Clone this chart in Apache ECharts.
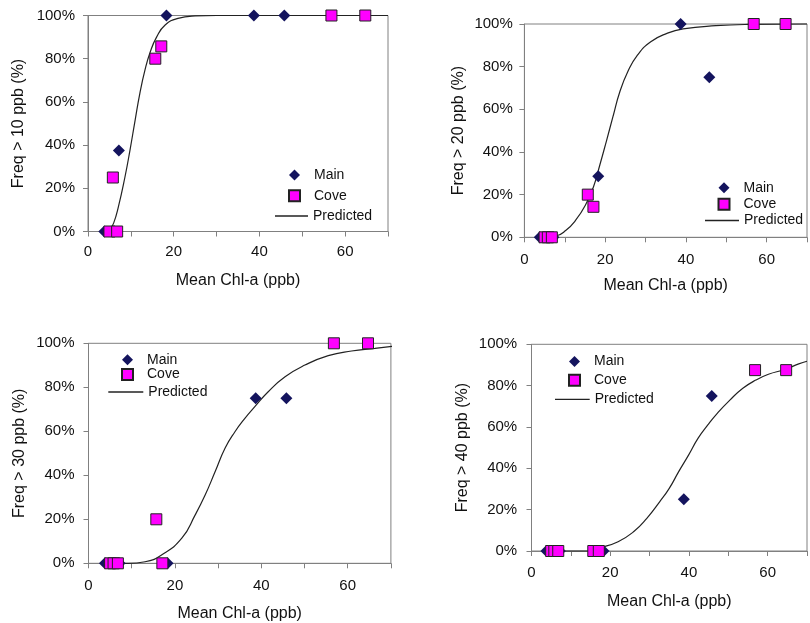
<!DOCTYPE html>
<html><head><meta charset="utf-8">
<script src="https://cdn.jsdelivr.net/npm/echarts@6/dist/echarts.min.js"></script>
<style>html,body{margin:0;padding:0;background:#fff}#c{width:810px;height:623px}</style>
</head><body><div id="c"></div>
<script>
// ---- data ----
const thresholds = ['10', '20', '30', '40'];
const mainX = [3.8, 7.2, 18.3, 38.7, 45.8];
const coveX = [5.0, 5.8, 6.8, 15.7, 17.1, 56.8, 64.7];
const main10 = [0, 37.5, 100, 100, 100];
const cove10 = [0, 25, 0, 80, 85.7, 100, 100];
const main20 = [0, 0, 28.6, 100, 75];
const cove20 = [0, 0, 0, 20, 14.3, 100, 100];
const main30 = [0, 0, 0, 75, 75];
const cove30 = [0, 0, 0, 20, 0, 100, 100];
const main40 = [0, 0, 0, 25, 75];
const cove40 = [0, 0, 0, 0, 0, 87.5, 87.5];

const predX10 = [4.5, 5.1, 6.0, 7.1, 8.6, 9.8, 11.0, 12.1, 13.3, 14.5, 16.0, 18.0, 21.0, 25.0, 30.0, 70.0];
const pred10  = [0, 1, 4, 11.5, 25, 37.7, 51.6, 64, 74.8, 83, 90, 95.6, 98.7, 99.8, 100, 100];
const predX20 = [4.5, 7.8, 10.3, 12.7, 15.1, 17.1, 18.7, 20.3, 22.0, 23.6, 25.6, 28.0, 31.3, 35.3, 39.3, 47.4, 55.5, 70.0];
const pred20  = [0, 0.6, 3.3, 8, 15, 23.6, 34, 45, 57, 68, 77.6, 85.4, 91.7, 95.6, 97.7, 99.2, 99.8, 100];
const predX30 = [5.0, 9.2, 13.1, 16.9, 21.6, 24.7, 27.0, 29.3, 31.6, 33.9, 36.2, 38.5, 41.6, 45.5, 50.1, 55.5, 60.9, 66.3, 71.3];
const pred30  = [0, 0, 0.7, 3.8, 11.4, 22, 31, 41.6, 52.3, 59.8, 65.9, 71.2, 78, 84.8, 90.1, 94.4, 96.5, 97.7, 98.9];
const predX40 = [5.0, 15.0, 17.1, 22.0, 26.0, 29.3, 32.6, 35.0, 37.4, 39.9, 42.3, 44.8, 47.2, 50.4, 53.7, 57.0, 60.2, 64.3, 67.9, 70.0];
const pred40  = [0, 0, 1.3, 4.5, 9.4, 15.8, 23.9, 30.3, 38.4, 46.4, 54.5, 61, 66.6, 73, 78.7, 82.7, 85.5, 87.8, 90.5, 91.8];

const xTickLabels = ['0', '20', '40', '60'];
const yTickLabels = ['0%', '20%', '40%', '60%', '80%', '100%'];

const mainSets = [main10, main20, main30, main40];
const coveSets = [cove10, cove20, cove30, cove40];
const predXs = [predX10, predX20, predX30, predX40];
const predYs = [pred10, pred20, pred30, pred40];

// ---- layout (positions/styles only) ----
const panels = [
  {grid: {left: 88, top: 15.5, width: 300, height: 216},
   mk: {left: 288, top: 168, itemGap: 6.7}, ln: {left: 275, top: 209, itemWidth: 33},
   yNameGap: 61, xNameGap: 41.5, xLabMargin: 13, yLabMargin: 13},
  {grid: {left: 524.4, top: 24, width: 288.75, height: 213.3},
   mk: {left: 717.5, top: 180.7, itemGap: 2.5}, ln: {left: 705, top: 213.5, itemWidth: 34},
   yNameGap: 58, xNameGap: 40, xLabMargin: 15, yLabMargin: 11.6},
  {grid: {left: 88.5, top: 343.3, width: 302.4, height: 220},
   mk: {left: 121, top: 352.7, itemGap: 0.8}, ln: {left: 108.3, top: 385, itemWidth: 35},
   yNameGap: 61, xNameGap: 42, xLabMargin: 15.5, yLabMargin: 14},
  {grid: {left: 531.5, top: 344.3, width: 287, height: 206.7},
   mk: {left: 568, top: 354.4, itemGap: 4.8}, ln: {left: 555, top: 392.3, itemWidth: 34.7},
   yNameGap: 60.5, xNameGap: 42.7, xLabMargin: 14.8, yLabMargin: 14.3}
];

const FONT = "'Liberation Sans', Arial, sans-serif";
const axisGray = '#808080';
const textCol = '#111';

const option = {
  animation: false,
  backgroundColor: '#fff',
  grid: [], xAxis: [], yAxis: [], legend: [], series: []
};

panels.forEach((p, i) => {
  option.grid.push(Object.assign({show: true, borderColor: axisGray, borderWidth: 1, backgroundColor: 'transparent', containLabel: false}, p.grid));
  option.xAxis.push({
    type: 'value', gridIndex: i, min: 0, max: 70, interval: 10,
    name: 'Mean Chl-a (ppb)', nameLocation: 'middle', nameGap: p.xNameGap,
    nameTextStyle: {fontFamily: FONT, fontSize: 16, color: textCol},
    axisLine: {show: true, onZero: false, lineStyle: {color: axisGray, width: 1}},
    axisTick: {show: true, inside: false, length: 5, lineStyle: {color: axisGray}},
    splitLine: {show: false},
    axisLabel: {fontFamily: FONT, fontSize: 15, color: textCol, margin: p.xLabMargin,
      formatter: v => { const k = xTickLabels.indexOf(String(v)); return k >= 0 ? xTickLabels[k] : ''; }}
  });
  option.yAxis.push({
    type: 'value', gridIndex: i, min: 0, max: 100, interval: 20,
    name: 'Freq > ' + thresholds[i] + ' ppb (%)', nameLocation: 'middle', nameGap: p.yNameGap,
    nameTextStyle: {fontFamily: FONT, fontSize: 16, color: textCol},
    axisLine: {show: true, onZero: false, lineStyle: {color: axisGray, width: 1}},
    axisTick: {show: true, inside: false, length: 5, lineStyle: {color: axisGray}},
    splitLine: {show: false},
    axisLabel: {fontFamily: FONT, fontSize: 15, color: textCol, margin: p.yLabMargin,
      formatter: v => yTickLabels[Math.round(v / 20)]}
  });
  // marker legend (Main, Cove)
  option.legend.push(Object.assign({
    orient: 'vertical', padding: 0, itemWidth: 11, itemHeight: 11, selectedMode: false,
    textStyle: {fontFamily: FONT, fontSize: 14, color: textCol, padding: [0, 0, 0, 9]},
    data: [{name: 'Main', icon: 'diamond'}, {name: 'Cove', icon: 'rect'}]
  }, p.mk));
  // line legend (Predicted)
  option.legend.push(Object.assign({
    orient: 'vertical', padding: 0, itemHeight: 10, selectedMode: false,
    textStyle: {fontFamily: FONT, fontSize: 14, color: textCol},
    data: [{name: 'Predicted', icon: 'path://M0,0H36V1.4H0Z', itemStyle: {color: '#222', opacity: 1}}]
  }, p.ln));

  option.series.push({
    name: 'Predicted', type: 'line', xAxisIndex: i, yAxisIndex: i,
    data: predXs[i].map((x, k) => [x, predYs[i][k]]),
    symbol: 'none', showSymbol: false, smooth: 0.5, clip: false,
    lineStyle: {color: '#222', width: 1.2}, itemStyle: {color: '#222'}, z: 2
  });
  option.series.push({
    name: 'Main', type: 'scatter', xAxisIndex: i, yAxisIndex: i,
    data: mainX.map((x, k) => [x, mainSets[i][k]]),
    symbol: 'diamond', symbolSize: 12, clip: false,
    itemStyle: {color: '#14145e', opacity: 1}, z: 3
  });
  option.series.push({
    name: 'Cove', type: 'scatter', xAxisIndex: i, yAxisIndex: i,
    data: coveX.map((x, k) => [x, coveSets[i][k]]),
    symbol: 'rect', symbolSize: 11, clip: false,
    itemStyle: {color: '#ff00ff', borderColor: '#222', borderWidth: 1, opacity: 1}, z: 4
  });
});

const chart = echarts.init(document.getElementById('c'), null, {renderer: 'canvas'});
chart.setOption(option);
</script>
</body></html>
